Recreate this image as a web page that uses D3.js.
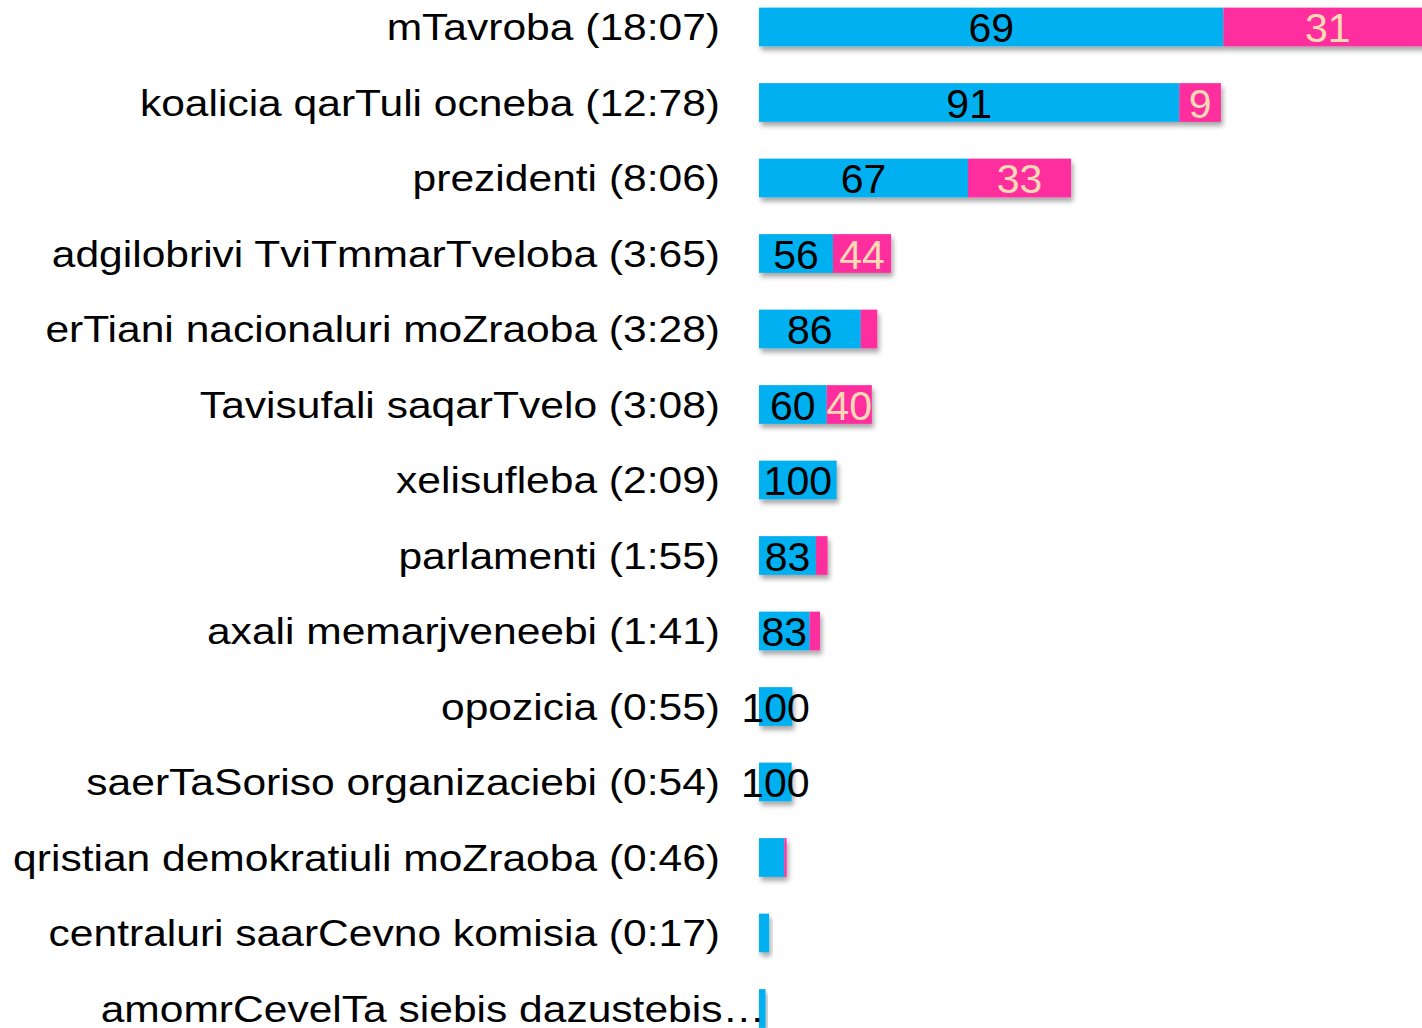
<!DOCTYPE html>
<html lang="en">
<head>
    <meta charset="UTF-8">
    <title>Speaking time by actor</title>
    <script src="https://d3js.org/d3.v7.min.js"></script>
    <style>
        body { margin: 0; background: #fff; }
        svg { display: block; }
        .label { font-family: Arial, "Liberation Sans", sans-serif; font-size: 37px; fill: #000; }
        .val { font-family: Arial, "Liberation Sans", sans-serif; font-size: 41px; }
    </style>
</head>
<body>
    <svg id="chart"></svg>
    <script>
        // row labels (as shown)
        const labels = [
            "mTavroba (18:07)",
            "koalicia qarTuli ocneba (12:78)",
            "prezidenti (8:06)",
            "adgilobrivi TviTmmarTveloba (3:65)",
            "erTiani nacionaluri moZraoba (3:28)",
            "Tavisufali saqarTvelo (3:08)",
            "xelisufleba (2:09)",
            "parlamenti (1:55)",
            "axali memarjveneebi (1:41)",
            "opozicia (0:55)",
            "saerTaSoriso organizaciebi (0:54)",
            "qristian demokratiuli moZraoba (0:46)",
            "centraluri saarCevno komisia (0:17)",
            "amomrCevelTa siebis dazustebis…"
        ];
        // bar length (time)
        const totals = [18.55, 12.73, 8.6, 3.64, 3.26, 3.11, 2.14, 1.89, 1.68, 0.92, 0.9, 0.76, 0.28, 0.18];
        // share of the first (blue) part, %
        const bluePct = [69, 91, 67, 56, 86, 60, 100, 83, 83, 100, 100, 92, 100, 100];

        const W = 1422, H = 1028;
        const svg = d3.select("#chart").attr("width", W).attr("height", H);

        const defs = svg.append("defs");
        defs.append("filter").attr("id", "shadow")
            .attr("x", "-20%").attr("y", "-20%").attr("width", "150%").attr("height", "160%")
            .append("feDropShadow")
            .attr("dx", 2).attr("dy", 4).attr("stdDeviation", 2.5)
            .attr("flood-color", "#000").attr("flood-opacity", 0.35);

        const x = d3.scaleLinear().domain([0, 18.3]).range([759, 1423]);
        const step = 75.5;
        const y = d3.scaleBand().domain(labels)
            .range([27 - step / 2, 27 - step / 2 + labels.length * step])
            .paddingInner(0.487).paddingOuter(0.2435);

        const rows = labels.map((l, i) => {
            const blue = totals[i] * bluePct[i] / 100;
            return { label: l, total: totals[i], blue: blue, pct: bluePct[i] };
        });

        const g = svg.selectAll("g.row").data(rows).enter().append("g").attr("class", "row")
            .attr("transform", d => `translate(0,${y(d.label)})`);

        const bh = y.bandwidth();

        // bar group with shadow
        const bars = g.append("g").attr("filter", "url(#shadow)");
        bars.append("rect")
            .attr("x", x(0)).attr("y", 0)
            .attr("width", d => x(d.blue) - x(0)).attr("height", bh)
            .attr("fill", "#00B0F0");
        bars.filter(d => d.pct < 100).append("rect")
            .attr("x", d => x(d.blue)).attr("y", 0)
            .attr("width", d => x(d.total) - x(d.blue)).attr("height", bh)
            .attr("fill", "#FF2D9E");

        // value labels
        g.filter(d => x(d.blue) - x(0) > 30).append("text")
            .attr("class", "val")
            .attr("x", d => (x(0) + x(d.blue)) / 2).attr("y", bh / 2)
            .attr("dy", "0.37em").attr("text-anchor", "middle")
            .attr("fill", "#000")
            .text(d => d.pct);
        g.filter(d => d.pct < 100 && x(d.total) - x(d.blue) > 30).append("text")
            .attr("class", "val")
            .attr("x", d => (x(d.blue) + x(d.total)) / 2).attr("y", bh / 2)
            .attr("dy", "0.37em").attr("text-anchor", "middle")
            .attr("fill", "#FFDAB4")
            .text(d => 100 - d.pct);

        // category labels (the source text is a little wider than Arial)
        g.append("text")
            .attr("class", "label")
            .attr("transform", d => `translate(${d.label.endsWith("…") ? x(0) + 6 : 720},${bh / 2}) scale(1.15,1)`)
            .attr("dy", "0.36em")
            .attr("text-anchor", "end")
            .text(d => d.label);
    </script>
</body>
</html>
